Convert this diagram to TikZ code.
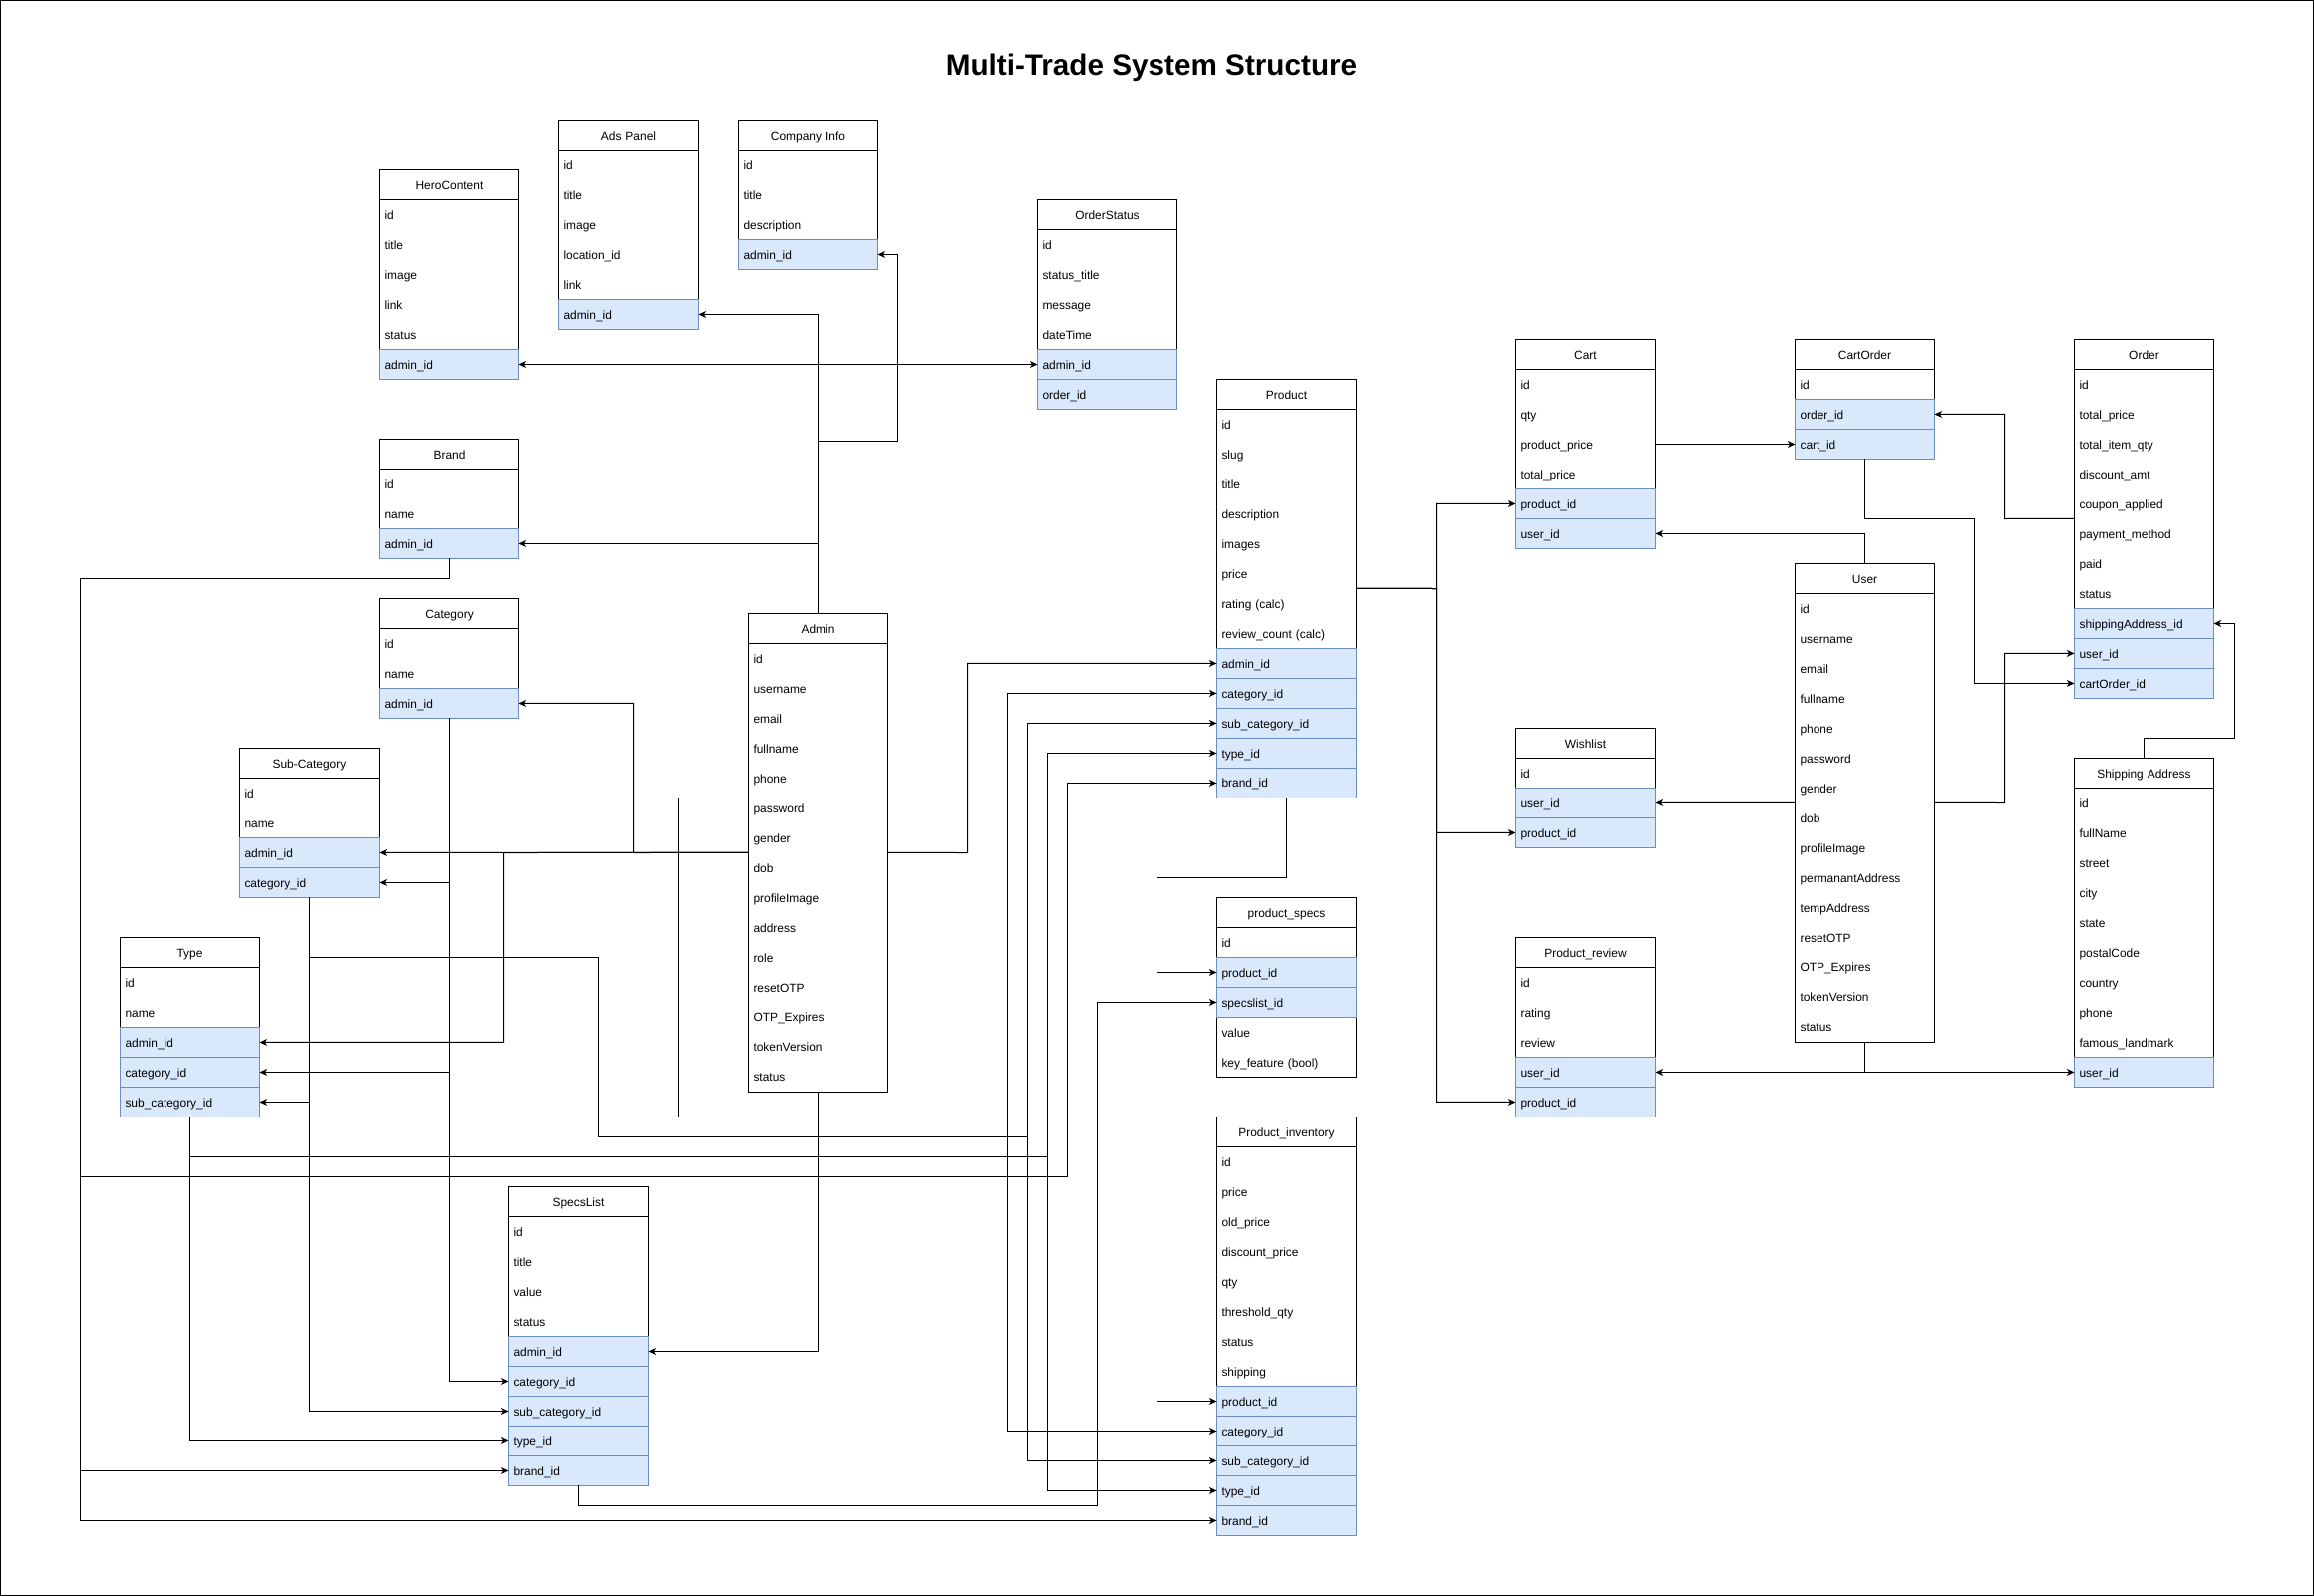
\documentclass[tikz,border=0pt]{standalone}
\usepackage{fontspec}
\setmainfont{Liberation Sans}
\usetikzlibrary{positioning,arrows.meta,backgrounds}

\definecolor{keyfill}{HTML}{DAE8FC}
\definecolor{keydraw}{HTML}{6C8EBF}

\tikzset{
  tblhead/.style={draw=black,line width=0.02cm,minimum width=2.8cm,minimum height=0.6cm,
    text width=2.6cm,align=center,inner xsep=0.1cm,inner ysep=0pt,outer sep=0pt,
    text height=0.72em,text depth=0.2em},
  tblrow/.style={minimum width=2.8cm,minimum height=0.6cm,
    text width=2.6cm,align=left,inner xsep=0.1cm,inner ysep=0pt,outer sep=0pt,
    text height=0.72em,text depth=0.2em,anchor=north},
  tblkey/.style={tblrow,fill=keyfill,draw=keydraw,line width=0.02cm},
  tblframe/.style={draw=black,line width=0.02cm},
  rel/.style={draw,line width=0.02cm,-{Stealth[length=4.3pt,width=3.9pt,inset=1.2pt]}}
}

\newcommand\ertable[4]{%
  \node[tblhead,anchor=north west] (#1-0) at (#2) {#3};
  \foreach \kind/\txt [count=\i, remember=\i as \j (initially 0)] in {#4}
    {\node[\kind,below=0pt of #1-\j] (#1-\i) {\txt}; \xdef\lastrow{\i}}
  \begin{scope}[on background layer]
    \draw[tblframe] (#1-0.north west) rectangle (#1-\lastrow.south east);
  \end{scope}
}

\begin{document}
\begin{tikzpicture}[x=0.02cm,y=-0.02cm,every node/.style={font=\fontsize{6.8}{8}\selectfont}]

  \useasboundingbox (0,0) rectangle (2321,1601);
  \draw[line width=0.03cm] (0.75,0.75) rectangle (2320.25,1600.25);

  \node[anchor=base,font=\bfseries\fontsize{16.9}{20}\selectfont] (title) at (1155,76) {Multi-Trade System Structure};

  \ertable{hero}{380.5,170.5}{HeroContent}{tblrow/id, tblrow/title, tblrow/image, tblrow/link, tblrow/status, tblkey/admin\_id}
  \ertable{ads}{560.5,120.5}{Ads Panel}{tblrow/id, tblrow/title, tblrow/image, tblrow/location\_id, tblrow/link, tblkey/admin\_id}
  \ertable{company}{740.5,120.5}{Company Info}{tblrow/id, tblrow/title, tblrow/description, tblkey/admin\_id}
  \ertable{ostatus}{1040.5,200.5}{OrderStatus}{tblrow/id, tblrow/status\_title, tblrow/message, tblrow/dateTime, tblkey/admin\_id, tblkey/order\_id}
  \ertable{brand}{380.5,440.5}{Brand}{tblrow/id, tblrow/name, tblkey/admin\_id}
  \ertable{category}{380.5,600.5}{Category}{tblrow/id, tblrow/name, tblkey/admin\_id}
  \ertable{subcat}{240.5,750.5}{Sub-Category}{tblrow/id, tblrow/name, tblkey/admin\_id, tblkey/category\_id}
  \ertable{type}{120.5,940.5}{Type}{tblrow/id, tblrow/name, tblkey/admin\_id, tblkey/category\_id, tblkey/sub\_category\_id}
  \ertable{admin}{750.5,615.5}{Admin}{tblrow/id, tblrow/username, tblrow/email, tblrow/fullname, tblrow/phone, tblrow/password, tblrow/gender, tblrow/dob, tblrow/profileImage, tblrow/address, tblrow/role, tblrow/resetOTP, tblrow/OTP\_Expires, tblrow/tokenVersion, tblrow/status}
  \ertable{specs}{510.5,1190.5}{SpecsList}{tblrow/id, tblrow/title, tblrow/value, tblrow/status, tblkey/admin\_id, tblkey/category\_id, tblkey/sub\_category\_id, tblkey/type\_id, tblkey/brand\_id}
  \ertable{product}{1220.5,380.5}{Product}{tblrow/id, tblrow/slug, tblrow/title, tblrow/description, tblrow/images, tblrow/price, tblrow/rating (calc), tblrow/review\_count (calc), tblkey/admin\_id, tblkey/category\_id, tblkey/sub\_category\_id, tblkey/type\_id, tblkey/brand\_id}
  \ertable{pspecs}{1220.5,900.5}{product\_specs}{tblrow/id, tblkey/product\_id, tblkey/specslist\_id, tblrow/value, tblrow/key\_feature (bool)}
  \ertable{inventory}{1220.5,1120.5}{Product\_inventory}{tblrow/id, tblrow/price, tblrow/old\_price, tblrow/discount\_price, tblrow/qty, tblrow/threshold\_qty, tblrow/status, tblrow/shipping, tblkey/product\_id, tblkey/category\_id, tblkey/sub\_category\_id, tblkey/type\_id, tblkey/brand\_id}
  \ertable{cart}{1520.5,340.5}{Cart}{tblrow/id, tblrow/qty, tblrow/product\_price, tblrow/total\_price, tblkey/product\_id, tblkey/user\_id}
  \ertable{cartorder}{1800.5,340.5}{CartOrder}{tblrow/id, tblkey/order\_id, tblkey/cart\_id}
  \ertable{order}{2080.5,340.5}{Order}{tblrow/id, tblrow/total\_price, tblrow/total\_item\_qty, tblrow/discount\_amt, tblrow/coupon\_applied, tblrow/payment\_method, tblrow/paid, tblrow/status, tblkey/shippingAddress\_id, tblkey/user\_id, tblkey/cartOrder\_id}
  \ertable{user}{1800.5,565.5}{User}{tblrow/id, tblrow/username, tblrow/email, tblrow/fullname, tblrow/phone, tblrow/password, tblrow/gender, tblrow/dob, tblrow/profileImage, tblrow/permanantAddress, tblrow/tempAddress, tblrow/resetOTP, tblrow/OTP\_Expires, tblrow/tokenVersion, tblrow/status}
  \ertable{wishlist}{1520.5,730.5}{Wishlist}{tblrow/id, tblkey/user\_id, tblkey/product\_id}
  \ertable{shipping}{2080.5,760.5}{Shipping Address}{tblrow/id, tblrow/fullName, tblrow/street, tblrow/city, tblrow/state, tblrow/postalCode, tblrow/country, tblrow/phone, tblrow/famous\_landmark, tblkey/user\_id}
  \ertable{review}{1520.5,940.5}{Product\_review}{tblrow/id, tblrow/rating, tblrow/review, tblkey/user\_id, tblkey/product\_id}

  \begin{scope}[every path/.style={rel}]
    % admin
    \path (admin-0.north) |- (ads-6.east);
    \path (admin-0.north) |- (hero-6.east);
    \path (admin-0.north) |- (ostatus-5.west);
    \path (admin-0.north) |- (900.5,442.5) |- (company-4.east);
    \path (admin-0.north) |- (brand-3.east);
    \path (admin-7.south west) -- (subcat-3.east);
    \path (admin-7.south west) -- (635.5,855.5) |- (category-3.east);
    \path (admin-7.south west) -- (505.5,855.5) |- (type-3.east);
    \path (admin-7.south east) -- (970.5,855.5) |- (product-9.west);
    \path (admin-15.south) |- (specs-5.east);
    % category
    \path (category-3.south) |- (subcat-4.east);
    \path (category-3.south) |- (type-4.east);
    \path (category-3.south) |- (specs-6.west);
    \path (category-3.south) |- (680.5,800.5) |- (1010.5,1120.5) |- (product-10.west);
    \path (category-3.south) |- (680.5,800.5) |- (1010.5,1120.5) |- (inventory-10.west);
    % sub-category
    \path (subcat-4.south) |- (type-5.east);
    \path (subcat-4.south) |- (specs-7.west);
    \path (subcat-4.south) |- (600.5,960.5) |- (1030.5,1140.5) |- (product-11.west);
    \path (subcat-4.south) |- (600.5,960.5) |- (1030.5,1140.5) |- (inventory-11.west);
    % type
    \path (type-5.south) |- (specs-8.west);
    \path (type-5.south) |- (1050.5,1160.5) |- (product-12.west);
    \path (type-5.south) |- (1050.5,1160.5) |- (inventory-12.west);
    % brand
    \path (brand-3.south) |- (80.5,580.5) |- (specs-9.west);
    \path (brand-3.south) |- (80.5,580.5) |- (inventory-13.west);
    \path (brand-3.south) |- (80.5,580.5) |- (1070.5,1180.5) |- (product-13.west);
    % product
    \path (specs-9.south) |- (1100.5,1510.5) |- (pspecs-3.west);
    \path (product-13.south) |- (1160.5,880.5) |- (pspecs-2.west);
    \path (product-13.south) |- (1160.5,880.5) |- (inventory-9.west);
    \path (product-6.south east) -- (1440.5,590.5) |- (cart-5.west);
    \path (product-6.south east) -- (1440.5,590.5) |- (wishlist-3.west);
    \path (product-6.south east) -- (1440.5,590.5) |- (review-5.west);
    % user, cart, order
    \path (cart-3.east) -- (cartorder-3.west);
    \path (user-0.north) |- (cart-6.east);
    \path (user-7.south west) -- (wishlist-2.east);
    \path (user-7.south east) -- (2010.5,805.5) |- (order-10.west);
    \path (cartorder-3.south) |- (1980.5,520.5) |- (order-11.west);
    \path (order-5.south west) -- (2010.5,520.5) |- (cartorder-2.east);
    \path (shipping-0.north) |- (2241.5,740.5) |- (order-9.east);
    \path (user-15.south) |- (review-4.east);
    \path (user-15.south) |- (shipping-10.west);
  \end{scope}

\end{tikzpicture}
\end{document}
